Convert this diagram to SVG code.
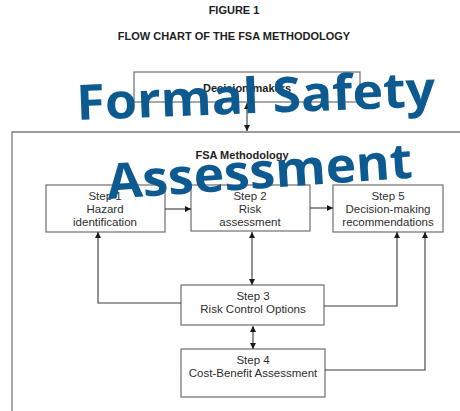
<svg xmlns="http://www.w3.org/2000/svg" width="460" height="411" viewBox="0 0 460 411">
  <style>
    .box { fill: #ffffff; stroke: #6e6e6e; stroke-width: 1.2; }
    .frame { fill: none; stroke: #7a7a7a; stroke-width: 1.3; }
    .wire { fill: none; stroke: #3a3a3a; stroke-width: 1.1; }
    .head { font-family: "Liberation Sans", Arial, sans-serif; font-weight: bold; font-size: 11px; fill: #1e1e1e; text-anchor: middle; }
    .label { font-family: "Liberation Sans", Arial, sans-serif; font-size: 11.5px; fill: #2e2e2e; text-anchor: middle; }
    .banner { font-family: "Open Sans", "Noto Sans", sans-serif; font-weight: 700; font-size: 49px; fill: #0d5a91; }
  </style>
  <defs>
    <marker id="arrow" viewBox="0 0 10 10" refX="10" refY="5" markerWidth="6" markerHeight="6" orient="auto-start-reverse" markerUnits="userSpaceOnUse">
      <path d="M0,0 L10,5 L0,10 z" fill="#1a1a1a"/>
    </marker>
  </defs>
  <rect width="460" height="411" fill="#ffffff"/>

  <!-- headings -->
  <text class="head" x="234" y="14">FIGURE 1</text>
  <text class="head" x="234" y="40">FLOW CHART OF THE FSA METHODOLOGY</text>

  <!-- methodology frame -->
  <g id="fsa-frame">
    <path class="frame" d="M12,420 L12,132 L470,132"/>
    <text class="head" x="242" y="159">FSA Methodology</text>
  </g>

  <g id="decision-makers">
    <rect class="box" x="134" y="72" width="226" height="30"/>
    <text class="head" x="247" y="92">Decision-makers</text>
  </g>

  <g id="step1">
    <rect class="box" x="46" y="185" width="119" height="47"/>
    <text class="label" x="105" y="200">Step 1</text>
    <text class="label" x="105" y="213">Hazard</text>
    <text class="label" x="105" y="226">identification</text>
  </g>

  <g id="step2">
    <rect class="box" x="191" y="185" width="119" height="46"/>
    <text class="label" x="250" y="200">Step 2</text>
    <text class="label" x="250" y="213">Risk</text>
    <text class="label" x="250" y="226">assessment</text>
  </g>

  <g id="step5">
    <rect class="box" x="333" y="185" width="110" height="47"/>
    <text class="label" x="388" y="200">Step 5</text>
    <text class="label" x="388" y="213">Decision-making</text>
    <text class="label" x="388" y="226">recommendations</text>
  </g>

  <g id="step3">
    <rect class="box" x="181" y="285" width="143" height="40"/>
    <text class="label" x="253" y="300">Step 3</text>
    <text class="label" x="253" y="313">Risk Control Options</text>
  </g>

  <g id="step4">
    <rect class="box" x="181" y="349" width="144" height="48"/>
    <text class="label" x="253" y="364">Step 4</text>
    <text class="label" x="253" y="377">Cost-Benefit Assessment</text>
  </g>

  <g id="connectors">
    <path class="wire" d="M247,103 L247,131" marker-start="url(#arrow)" marker-end="url(#arrow)"/>
    <path class="wire" d="M165,209 L191,209" marker-end="url(#arrow)"/>
    <path class="wire" d="M310,208 L333,208" marker-end="url(#arrow)"/>
    <path class="wire" d="M181,303 L98,303 L98,232" marker-end="url(#arrow)"/>
    <path class="wire" d="M252,232 L252,285" marker-start="url(#arrow)" marker-end="url(#arrow)"/>
    <path class="wire" d="M324,306 L397,306 L397,232" marker-end="url(#arrow)"/>
    <path class="wire" d="M325,370 L425,370 L425,232" marker-end="url(#arrow)"/>
    <path class="wire" d="M253,326 L253,349" marker-start="url(#arrow)" marker-end="url(#arrow)"/>
  </g>

  <!-- overlay title -->
  <g id="overlay-title">
    <text class="banner" x="77" y="120" textLength="359" lengthAdjust="spacingAndGlyphs" transform="rotate(-2.2 77 120)">Formal Safety</text>
    <text class="banner" x="108" y="199" textLength="306" lengthAdjust="spacingAndGlyphs" transform="rotate(-4 108 199)">Assessment</text>
  </g>
</svg>
